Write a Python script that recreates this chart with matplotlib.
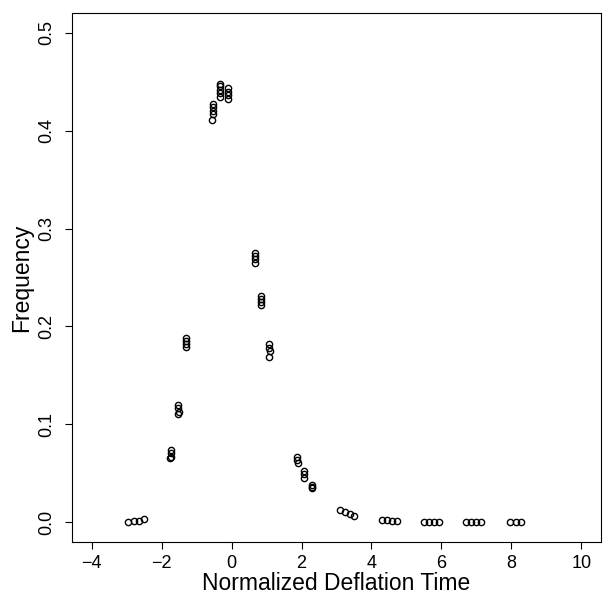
import matplotlib
matplotlib.use("Agg")
import matplotlib.pyplot as plt

plt.rcParams['font.family'] = ['Liberation Sans', 'DejaVu Sans']

# Normalized deflation time (x) and frequency (y), read per cluster
x_vals = [
    -2.96, -2.79, -2.65, -2.50,
    -1.74, -1.74, -1.74, -1.75,
    -1.52, -1.52, -1.51, -1.52,
    -1.30, -1.30, -1.29, -1.30,
    -0.54, -0.54, -0.53, -0.54, -0.55,
    -0.33, -0.33, -0.32, -0.33, -0.34,
    -0.11, -0.11, -0.10, -0.11,
    0.67, 0.67, 0.68, 0.67,
    0.84, 0.84, 0.85, 0.84,
    1.08, 1.08, 1.09, 1.08,
    1.88, 1.88, 1.89,
    2.07, 2.07, 2.08,
    2.29, 2.29, 2.30,
    3.10, 3.24, 3.38, 3.50,
    4.31, 4.45, 4.58, 4.72,
    5.51, 5.65, 5.79, 5.93,
    6.70, 6.84, 6.98, 7.12,
    7.95, 8.12, 8.27,
]
y_vals = [
    0.0008, 0.0010, 0.0013, 0.0030,
    0.0736, 0.0705, 0.0671, 0.0660,
    0.1198, 0.1164, 0.1130, 0.1103,
    0.1886, 0.1852, 0.1821, 0.1794,
    0.427, 0.424, 0.420, 0.417, 0.411,
    0.448, 0.445, 0.441, 0.438, 0.434,
    0.443, 0.439, 0.436, 0.432,
    0.2753, 0.2719, 0.2686, 0.2651,
    0.2314, 0.2280, 0.2247, 0.2219,
    0.1818, 0.1783, 0.1750, 0.1692,
    0.0671, 0.0637, 0.0603,
    0.0525, 0.0491, 0.0456,
    0.0382, 0.0365, 0.0348,
    0.0127, 0.0103, 0.0086, 0.0068,
    0.0025, 0.0023, 0.0018, 0.0015,
    0.0008, 0.0008, 0.0007, 0.0007,
    0.0005, 0.0005, 0.0005, 0.0005,
    0.0004, 0.0004, 0.0004,
]
x_ticks = [-4, -2, 0, 2, 4, 6, 8, 10]
y_ticks = [0.0, 0.1, 0.2, 0.3, 0.4, 0.5]
y_tick_labels = ["0.0", "0.1", "0.2", "0.3", "0.4", "0.5"]

fig = plt.figure(figsize=(6.03, 5.97), dpi=100)
ax = fig.add_axes([72 / 603, 55 / 597, 529 / 603, 529 / 597])

ax.plot(x_vals, y_vals, linestyle='none', marker='o', markersize=4.5,
        markerfacecolor='none', markeredgecolor='black', markeredgewidth=1.0)

ax.set_xlim(-4.56, 10.56)
ax.set_ylim(-0.02, 0.52)
ax.set_xticks(x_ticks)
ax.set_xticklabels([f"{t}".replace('-', '\u2212') for t in x_ticks])
ax.set_yticks(y_ticks)
ax.set_yticklabels(y_tick_labels, rotation=90, va='center')

ax.tick_params(direction='out', length=5, width=0.8, labelsize=13, pad=4,
               top=False, right=False)
ax.tick_params(axis='y', pad=7)
for s in ax.spines.values():
    s.set_linewidth(0.8)

ax.set_xlabel("Normalized Deflation Time", fontsize=16.5, labelpad=0)
ax.set_ylabel("Frequency", fontsize=16.5, labelpad=4)

fig.savefig("out.png", dpi=100)
